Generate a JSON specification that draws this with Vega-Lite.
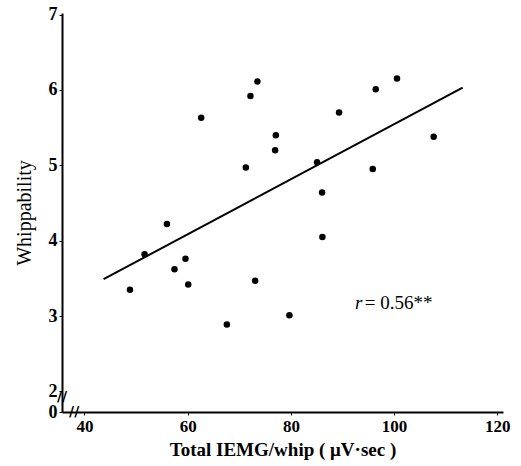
{
  "$schema": "https://vega.github.io/schema/vega-lite/v6.json",
  "width": 441,
  "height": 399,
  "autosize": {"type": "none"},
  "padding": {"left": 62, "top": 13, "right": 18, "bottom": 54},
  "background": "white",
  "config": {
    "view": {"stroke": null},
    "font": "Liberation Serif",
    "axis": {"grid": false, "domainColor": "black", "domainWidth": 2, "tickColor": "black", "labelColor": "black", "titleColor": "black", "labelFont": "Liberation Serif", "titleFont": "Liberation Serif"}
  },
  "datasets": {
    "points": [
      {"iemg": 48.81, "whip": 3.35},
      {"iemg": 51.64, "whip": 3.82},
      {"iemg": 55.97, "whip": 4.22},
      {"iemg": 57.44, "whip": 3.62},
      {"iemg": 59.57, "whip": 3.76},
      {"iemg": 60.10, "whip": 3.42},
      {"iemg": 62.61, "whip": 5.63},
      {"iemg": 67.59, "whip": 2.89},
      {"iemg": 71.27, "whip": 4.97},
      {"iemg": 72.16, "whip": 5.92},
      {"iemg": 73.07, "whip": 3.47},
      {"iemg": 73.51, "whip": 6.11},
      {"iemg": 77.08, "whip": 5.40},
      {"iemg": 76.94, "whip": 5.20},
      {"iemg": 79.71, "whip": 3.01},
      {"iemg": 85.07, "whip": 5.04},
      {"iemg": 86.04, "whip": 4.64},
      {"iemg": 86.10, "whip": 4.05},
      {"iemg": 89.33, "whip": 5.70},
      {"iemg": 95.86, "whip": 4.95},
      {"iemg": 96.44, "whip": 6.01},
      {"iemg": 100.56, "whip": 6.15},
      {"iemg": 107.67, "whip": 5.38}
    ],
    "fit": [
      {"iemg": 43.70, "whip": 3.49},
      {"iemg": 113.28, "whip": 6.03}
    ],
    "noteR": [
      {"iemg": 92.4, "whip": 3.17, "label": "r"}
    ],
    "noteV": [
      {"iemg": 94.3, "whip": 3.17, "label": "= 0.56**"}
    ],
    "breaks": [
      {"iemg": 35.64, "whip": 1.93, "label": "//"},
      {"iemg": 38.0, "whip": 1.728, "label": "//"}
    ]
  },
  "layer": [
    {
      "data": {"name": "points"},
      "mark": {"type": "point", "filled": true, "color": "black", "opacity": 1, "size": 42},
      "encoding": {
        "x": {
          "field": "iemg", "type": "quantitative",
          "scale": {"domain": [35.64, 121.1], "nice": false, "zero": false},
          "axis": {
            "values": [40, 60, 80, 100, 120],
            "title": "Total IEMG/whip  ( μV·sec )",
            "titleFontSize": 19, "titleFontWeight": "bold", "titlePadding": 6,
            "labelFontSize": 17, "labelFontWeight": "bold", "labelPadding": 3,
            "tickSize": 3
          }
        },
        "y": {
          "field": "whip", "type": "quantitative",
          "scale": {"domain": [1.728, 7.02], "nice": false, "zero": false},
          "axis": {
            "values": [1.728, 2, 3, 4, 5, 6, 7],
            "labelExpr": "datum.value < 1.9 ? '0' : format(datum.value, 'd')",
            "title": "Whippability",
            "titleFontSize": 20, "titleFontWeight": "normal", "titlePadding": 14,
            "labelFontSize": 18, "labelFontWeight": "bold", "labelPadding": 2,
            "tickSize": 3
          }
        }
      }
    },
    {
      "data": {"name": "fit"},
      "mark": {"type": "line", "color": "black", "strokeWidth": 2},
      "encoding": {
        "x": {"field": "iemg", "type": "quantitative"},
        "y": {"field": "whip", "type": "quantitative"}
      }
    },
    {
      "data": {"name": "noteR"},
      "mark": {"type": "text", "align": "left", "baseline": "middle", "fontSize": 19, "fontStyle": "italic", "color": "black", "font": "Liberation Serif"},
      "encoding": {
        "x": {"field": "iemg", "type": "quantitative"},
        "y": {"field": "whip", "type": "quantitative"},
        "text": {"field": "label"}
      }
    },
    {
      "data": {"name": "noteV"},
      "mark": {"type": "text", "align": "left", "baseline": "middle", "fontSize": 19, "color": "black", "font": "Liberation Serif"},
      "encoding": {
        "x": {"field": "iemg", "type": "quantitative"},
        "y": {"field": "whip", "type": "quantitative"},
        "text": {"field": "label"}
      }
    },
    {
      "data": {"name": "breaks"},
      "mark": {"type": "text", "align": "center", "baseline": "middle", "fontSize": 14, "fontWeight": "bold", "color": "black", "font": "DejaVu Sans"},
      "encoding": {
        "x": {"field": "iemg", "type": "quantitative"},
        "y": {"field": "whip", "type": "quantitative"},
        "text": {"field": "label"}
      }
    }
  ]
}
